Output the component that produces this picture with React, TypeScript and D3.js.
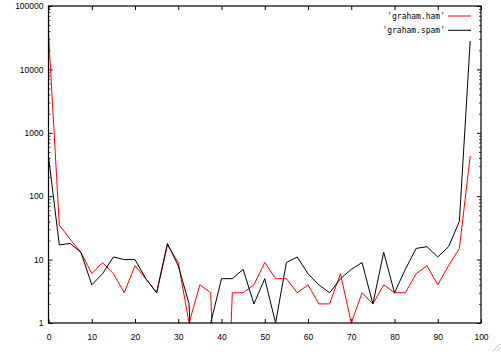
import { useEffect, useRef } from "react"
import * as d3 from "d3"

// bin positions (percent) and counts per bin
const bins = [
  0, 2.5, 5, 7.5, 10, 12.5, 15, 17.5, 20, 22.5, 25, 27.5, 30, 32.5, 35, 37.5, 40, 42.5, 45, 47.5,
  50, 52.5, 55, 57.5, 60, 62.5, 65, 67.5, 70, 72.5, 75, 77.5, 80, 82.5, 85, 87.5, 90, 92.5, 95, 97.5,
]
const ham = [
  38000, 35, 21, 13, 6, 9, 6, 3, 8, 5, 3, 17, 9, 1, 4, 3, 0, 3, 3, 4,
  9, 5, 5, 3, 4, 2, 2, 6, 1, 3, 2, 4, 3, 3, 6, 8, 4, 8, 15, 430,
]
const spam = [
  420, 17, 18, 13, 4, 6, 11, 10, 10, 5, 3, 18, 8, 2, 0, 1, 5, 5, 7, 2,
  5, 1, 9, 11, 6, 4, 3, 5, 7, 9, 2, 13, 3, 7, 15, 16, 11, 16, 40, 28000,
]
const xTicks = [0, 10, 20, 30, 40, 50, 60, 70, 80, 90, 100]
const yTicks = [1, 10, 100, 1000, 10000, 100000]
const series = [
  { name: "'graham.ham'", values: ham, color: "#ff0000" },
  { name: "'graham.spam'", values: spam, color: "#000000" },
]

export default function App() {
  const svgRef = useRef<SVGSVGElement>(null)

  useEffect(() => {
    if (!svgRef.current) return
    const width = 501
    const height = 352
    const margin = { top: 6, right: 20, bottom: 29, left: 48.5 }
    const innerWidth = width - margin.left - margin.right
    const innerHeight = height - margin.top - margin.bottom

    const svg = d3.select(svgRef.current).attr("width", width).attr("height", height)
    svg.selectAll("*").remove()

    const g = svg.append("g").attr("transform", `translate(${margin.left},${margin.top})`)

    const x = d3.scaleLinear().domain([0, 100]).range([0, innerWidth])
    const y = d3.scaleLog().domain([1, 100000]).range([innerHeight, 0])

    const minor: number[] = []
    yTicks.slice(0, -1).forEach((d) => {
      for (let k = 2; k < 10; k++) minor.push(d * k)
    })

    svg
      .append("defs")
      .append("clipPath")
      .attr("id", "plot-clip")
      .append("rect")
      .attr("width", innerWidth)
      .attr("height", innerHeight)

    const font = "'Liberation Sans', Arial, sans-serif"

    const styleAxis = (sel: any) => {
      sel.select(".domain").remove()
      sel.selectAll("line").attr("stroke", "#000")
      sel.selectAll("text").attr("font-family", font).attr("font-size", "8.5px").attr("fill", "#000")
    }

    // minor ticks
    g.append("g")
      .call(d3.axisLeft(y).tickValues(minor).tickSize(-2).tickFormat(() => ""))
      .call(styleAxis)
      .selectAll("line")
      .attr("stroke", "#444")
    g.append("g")
      .attr("transform", `translate(${innerWidth},0)`)
      .call(d3.axisRight(y).tickValues(minor).tickSize(-2).tickFormat(() => ""))
      .call(styleAxis)
      .selectAll("line")
      .attr("stroke", "#444")

    // major ticks
    g.append("g")
      .attr("transform", `translate(0,${innerHeight})`)
      .call(d3.axisBottom(x).tickValues(xTicks).tickSize(-4).tickPadding(11).tickFormat(d3.format("d")))
      .call(styleAxis)
    g.append("g")
      .call(d3.axisTop(x).tickValues(xTicks).tickSize(-4).tickFormat(() => ""))
      .call(styleAxis)
    g.append("g")
      .call(d3.axisLeft(y).tickValues(yTicks).tickSize(-4).tickPadding(5).tickFormat(d3.format("d")))
      .call(styleAxis)
    g.append("g")
      .attr("transform", `translate(${innerWidth},0)`)
      .call(d3.axisRight(y).tickValues(yTicks).tickSize(-4).tickFormat(() => ""))
      .call(styleAxis)

    // empty bins sit far below the axis and get clipped
    const line = d3
      .line<number>()
      .x((_, i) => x(bins[i]))
      .y((d) => y(d > 0 ? d : 0.0001))

    const plot = g.append("g").attr("clip-path", "url(#plot-clip)")
    series.forEach((s) => {
      plot
        .append("path")
        .datum(s.values)
        .attr("fill", "none")
        .attr("stroke", s.color)
        .attr("stroke-width", 1)
        .attr("d", line)
    })

    // frame
    g.append("rect")
      .attr("width", innerWidth)
      .attr("height", innerHeight)
      .attr("fill", "none")
      .attr("stroke", "#000")
      .attr("stroke-width", 1.2)

    // legend
    const legend = svg.append("g").attr("transform", "translate(445,16)")
    series.forEach((s, i) => {
      const row = legend.append("g").attr("transform", `translate(0,${i * 14.3})`)
      row
        .append("text")
        .attr("text-anchor", "end")
        .attr("dy", "0.35em")
        .attr("font-family", "'DejaVu Sans Mono', monospace")
        .attr("font-size", "8px")
        .text(s.name)
      row.append("line").attr("x1", 3).attr("x2", 26).attr("stroke", s.color).attr("stroke-width", 1)
    })

    // resize grip in the corner
    const grip = svg.append("g").attr("stroke", "#bbb").attr("stroke-width", 1)
    ;[4, 8].forEach((d) => {
      grip.append("line").attr("x1", width - d).attr("y1", height - 1).attr("x2", width - 1).attr("y2", height - d)
    })
  }, [])

  return (
    <svg
      ref={svgRef}
      style={{ position: "absolute", left: 0, top: 0, background: "#fff", display: "block" }}
    />
  )
}
